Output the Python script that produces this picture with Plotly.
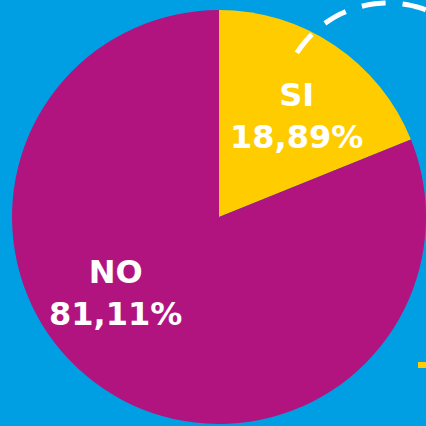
import numpy as np
import plotly.graph_objects as go

labels = ["SI", "NO"]
values = [18.89, 81.11]
colors = ["#FFCC00", "#B1147F"]

BG = "#009FE3"
W = H = 426

# label centres in pixels (x, y from top) for each slice
label_pos = [(296, 116), (115, 293)]


def to_paper(px, py):
    return px / W, 1 - py / H


fig = go.Figure(
    go.Pie(
        labels=labels,
        values=values,
        sort=False,
        direction="clockwise",
        rotation=0,
        marker={"colors": colors, "line": {"width": 0}},
        textinfo="none",
        hoverinfo="skip",
        showlegend=False,
        domain={"x": [12 / W, 1.0], "y": [2 / H, 416 / H]},
    )
)

for lab, val, (px, py) in zip(labels, values, label_pos):
    txt = f"{val:.2f}".replace(".", ",")
    x, y = to_paper(px, py)
    fig.add_annotation(
        x=x, y=y, xref="paper", yref="paper",
        xanchor="center", yanchor="middle", showarrow=False,
        text=f"<b>{lab}</b><br><b>{txt}%</b>",
        font={"family": "DejaVu Sans", "size": 32, "color": "white"},
    )

# decorative dashed arc over the top right corner
cx, cy, r = 388, 111, 108
ang = np.radians(np.linspace(147.5, 10, 80))
pts = [to_paper(cx + r * np.cos(a), cy - r * np.sin(a)) for a in ang]
path = "M " + " L ".join(f"{x:.5f},{y:.5f}" for x, y in pts)
fig.add_shape(
    type="path", path=path, xref="paper", yref="paper", layer="above",
    line={"color": "white", "width": 5, "dash": "24px,17px"},
)
# small yellow tick on the right edge
x0, y0 = to_paper(418, 368)
x1, y1 = to_paper(W, 362)
fig.add_shape(
    type="rect", xref="paper", yref="paper", layer="below",
    x0=x0, x1=x1, y0=y0, y1=y1,
    fillcolor="#FFCC00", line={"width": 0},
)

fig.update_layout(
    width=W,
    height=H,
    margin={"l": 0, "r": 0, "t": 0, "b": 0},
    paper_bgcolor=BG,
    plot_bgcolor=BG,
)

fig.write_html(
    "out.html",
    config={"displayModeBar": False},
    post_script="document.body.style.margin='0';",
)
